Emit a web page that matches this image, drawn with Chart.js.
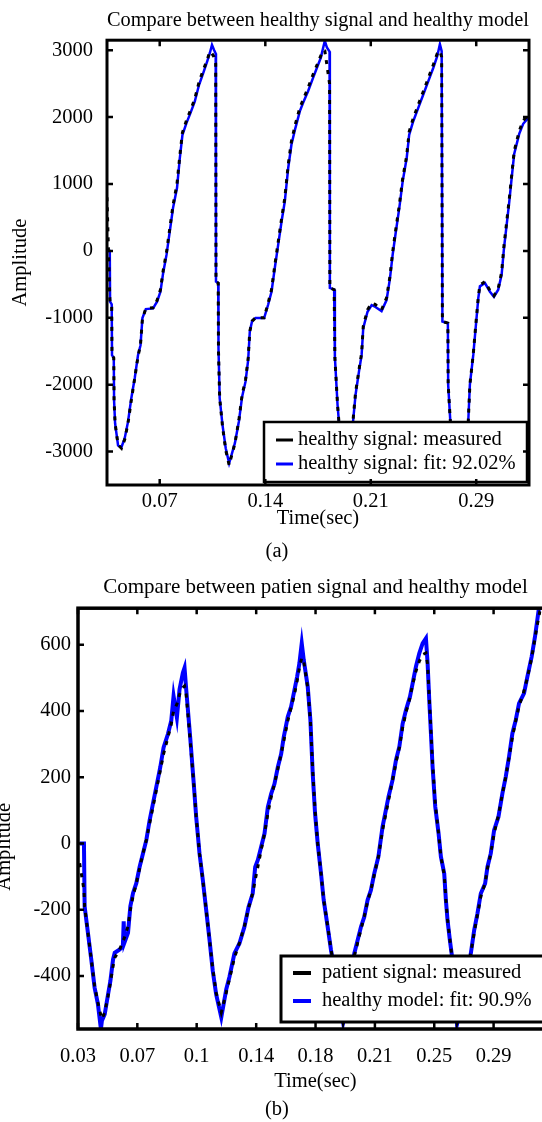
<!DOCTYPE html>
<html><head><meta charset="utf-8">
<script src="https://cdn.jsdelivr.net/npm/chart.js@4.4.1/dist/chart.umd.min.js"></script>
<style>
html,body{margin:0;padding:0;background:#fff;overflow:hidden;}
#page{position:relative;width:542px;height:1122px;overflow:hidden;background:#fff;}
#wa{position:absolute;left:0;top:0;width:542px;height:540px;}
#wb{position:absolute;left:-20px;top:565px;width:600px;height:557px;}
.cap{position:absolute;width:60px;text-align:center;font-family:'Liberation Serif',serif;font-size:20.5px;color:#000;line-height:24px;}
</style></head>
<body><div id="page">
<div id="wa"><canvas id="ca" width="542" height="540"></canvas></div>
<div id="wb"><canvas id="cb" width="600" height="557"></canvas></div>
<div class="cap" style="left:247px;top:538px">(a)</div>
<div class="cap" style="left:247px;top:1096px">(b)</div>
</div>
<script>
// ---------- chart (a) data ----------
const timeA = [
0.0357,0.0376,0.0378,0.0389,0.0391,0.0403,0.0405,0.0412,0.0432,0.0455,
0.0477,0.0499,0.0522,0.0545,0.0567,0.0584,0.0597,0.0620,0.0669,0.0696,
0.0719,0.0737,0.0760,0.0782,0.0804,0.0831,0.0850,0.0868,0.0895,0.0922,
0.0951,0.0980,0.1008,0.1035,0.1053,0.1068,0.1082,0.1093,0.1095,0.1110,
0.1112,0.1120,0.1139,0.1161,0.1184,0.1223,0.1250,0.1272,0.1295,0.1313,
0.1324,0.1340,0.1363,0.1421,0.1448,0.1471,0.1493,0.1516,0.1539,0.1561,
0.1584,0.1606,0.1633,0.1663,0.1685,0.1719,0.1753,0.1783,0.1805,0.1821,
0.1832,0.1846,0.1864,0.1866,0.1895,0.1900,0.1918,0.1940,0.1958,0.1985,
0.2023,0.2040,0.2063,0.2081,0.2092,0.2121,0.2149,0.2172,0.2216,0.2250,
0.2273,0.2291,0.2313,0.2336,0.2359,0.2386,0.2403,0.2430,0.2464,0.2498,
0.2532,0.2566,0.2593,0.2611,0.2623,0.2628,0.2665,0.2667,0.2683,0.2713,
0.2760,0.2803,0.2814,0.2837,0.2855,0.2871,0.2882,0.2916,0.2950,0.2977,
0.3006,0.3029,0.3045,0.3063,0.3081,0.3097,0.3114,0.3148,0.3175,0.3214];
const fitA = [
0,0,-760,-800,-1560,-1600,-2235,-2580,-2910,-2935,
-2800,-2560,-2200,-1900,-1560,-1410,-1005,-870,-860,-760,
-610,-335,-60,290,640,940,1385,1735,1910,2060,
2230,2480,2655,2830,2955,3080,3005,2950,-460,-480,
-1455,-2200,-2600,-2950,-3175,-2875,-2550,-2180,-1955,-1630,
-1205,-1045,-1005,-1005,-805,-610,-260,90,440,740,
1240,1590,1840,2090,2215,2390,2590,2765,2890,3040,
3140,3040,2980,-555,-580,-1585,-2300,-2900,-3080,-2900,
-2550,-2150,-1805,-1555,-1155,-910,-810,-835,-900,-735,
-410,-60,290,640,1040,1385,1735,1935,2135,2335,
2535,2735,2910,3090,2985,-1055,-1080,-2000,-2600,-3100,
-3050,-2550,-2000,-1555,-1105,-705,-530,-480,-610,-685,
-580,-355,40,390,740,1090,1450,1750,1900,2000];
const measuredA = [
800,-700,-760,-800,-1560,-1600,-2235,-2580,-2900,-2950,
-2820,-2580,-2230,-1900,-1580,-1400,-1020,-860,-850,-740,
-580,-300,-20,330,680,1000,1420,1770,1950,2100,
2270,2520,2700,2850,2980,2950,2900,2800,-460,-480,
-1500,-2200,-2620,-2980,-3200,-2880,-2530,-2150,-1930,-1600,
-1200,-1050,-1000,-1000,-780,-580,-220,130,480,790,
1290,1640,1900,2140,2260,2440,2640,2800,2920,3000,
2990,2780,2500,-555,-580,-1600,-2300,-2900,-3080,-2900,
-2530,-2120,-1780,-1530,-1130,-880,-780,-800,-880,-700,
-380,-20,330,680,1080,1420,1780,1980,2180,2380,
2580,2780,2950,2990,2900,-1055,-1080,-2000,-2600,-3100,
-3050,-2550,-2000,-1540,-1080,-690,-510,-460,-590,-670,
-560,-320,80,430,780,1130,1490,1790,1950,2040];
const xTickValsA = [0.0714, 0.1429, 0.2143, 0.2857];
const xTickLabelsA = ['0.07','0.14','0.21','0.29'];
const yTickValsA = [-3000,-2000,-1000,0,1000,2000,3000];
const yTickLabelsA = ['-3000','-2000','-1000','0','1000','2000','3000'];

// ---------- chart (b) data ----------
const timeB = [
0.0367,0.0393,0.0397,0.0417,0.0437,0.0457,0.0477,0.0495,0.0501,0.0518,
0.0538,0.0552,0.0568,0.0578,0.0608,0.0627,0.0632,0.0636,0.0658,0.0672,
0.0688,0.0708,0.0728,0.0748,0.0768,0.0788,0.0808,0.0828,0.0852,0.0872,
0.0898,0.0918,0.0932,0.0952,0.0968,0.0988,0.0998,0.1008,0.1032,0.1052,
0.1068,0.1088,0.1108,0.1128,0.1148,0.1168,0.1188,0.1219,0.1249,0.1268,
0.1298,0.1328,0.1358,0.1383,0.1408,0.1423,0.1439,0.1459,0.1479,0.1499,
0.1519,0.1539,0.1559,0.1579,0.1595,0.1619,0.1639,0.1659,0.1675,0.1689,
0.1703,0.1715,0.1739,0.1755,0.1769,0.1783,0.1799,0.1819,0.1835,0.1859,
0.1879,0.1917,0.1952,0.1988,0.2019,0.2039,0.2059,0.2079,0.2099,0.2119,
0.2139,0.2164,0.2189,0.2225,0.2249,0.2270,0.2290,0.2310,0.2330,0.2354,
0.2370,0.2390,0.2410,0.2430,0.2450,0.2460,0.2470,0.2480,0.2490,0.2506,
0.2526,0.2540,0.2560,0.2570,0.2580,0.2594,0.2606,0.2637,0.2680,0.2720,
0.2740,0.2760,0.2780,0.2806,0.2820,0.2840,0.2860,0.2886,0.2910,0.2930,
0.2950,0.2970,0.2990,0.3010,0.3040,0.3060,0.3086,0.3106,0.3120,0.3135,
0.3214];
const fitB = [
0,0,-190,-270,-350,-435,-485,-560,-535,-515,
-455,-415,-350,-330,-320,-310,-235,-300,-270,-190,
-150,-120,-70,-30,10,70,120,170,230,290,
330,370,445,380,465,515,530,465,320,190,
80,-30,-110,-200,-290,-385,-455,-525,-440,-403,
-332,-302,-252,-192,-151,-71,-50,-10,30,110,
150,180,230,270,322,382,413,463,503,544,
604,554,473,372,211,91,0,-91,-171,-252,
-322,-430,-540,-450,-332,-292,-252,-222,-171,-141,
-91,-40,50,141,191,252,292,362,403,443,
483,534,574,604,619,544,433,332,231,111,
30,-40,-91,-171,-232,-292,-337,-545,-450,-332,
-262,-211,-151,-121,-71,-30,40,80,151,201,
262,332,372,423,453,503,564,624,675,730,
760];
const measuredB = [
-60,-140,-190,-270,-350,-430,-480,-520,-530,-510,
-460,-420,-370,-345,-320,-295,-290,-285,-250,-200,
-160,-120,-75,-30,10,60,110,160,220,270,
320,360,400,420,450,470,475,450,310,190,
80,-30,-110,-200,-290,-380,-450,-510,-450,-410,
-345,-300,-250,-195,-150,-110,-70,-20,30,90,
140,180,225,270,310,370,410,450,490,530,
560,550,470,370,220,100,0,-90,-170,-250,
-320,-430,-540,-450,-340,-300,-260,-220,-175,-140,
-95,-40,40,130,190,245,290,350,395,440,
480,520,550,570,575,540,440,340,240,120,
30,-40,-95,-170,-230,-290,-340,-540,-450,-330,
-270,-215,-160,-120,-75,-30,30,85,150,200,
260,320,370,415,460,500,560,620,660,700,
740];
const xTickValsB = [0.0357,0.0714,0.1071,0.1429,0.1786,0.2143,0.25,0.2857];
const xTickLabelsB = ['0.03','0.07','0.1','0.14','0.18','0.21','0.25','0.29'];
const yTickValsB = [-400,-200,0,200,400,600];
const yTickLabelsB = ['-400','-200','0','200','400','600'];

// ---------- plugins ----------
const framePlugin = {
  id: 'frame',
  afterDraw(chart, args, o) {
    const {ctx, chartArea: a, scales} = chart;
    ctx.save();
    ctx.strokeStyle = '#000';
    ctx.setLineDash([]);
    ctx.lineWidth = o.tickWidth;
    const L = o.tickLen;
    ctx.beginPath();
    scales.x.ticks.forEach(t => {
      const px = scales.x.getPixelForValue(t.value);
      ctx.moveTo(px, a.top); ctx.lineTo(px, a.top + L);
      ctx.moveTo(px, a.bottom); ctx.lineTo(px, a.bottom - L);
    });
    scales.y.ticks.forEach(t => {
      const py = scales.y.getPixelForValue(t.value);
      ctx.moveTo(a.left, py); ctx.lineTo(a.left + L, py);
      ctx.moveTo(a.right, py); ctx.lineTo(a.right - L, py);
    });
    ctx.stroke();
    ctx.lineWidth = o.width;
    ctx.strokeRect(a.left, a.top, a.right - a.left, a.bottom - a.top);
    ctx.restore();
  }
};
const boxLegend = {
  id: 'boxLegend',
  afterDatasetsDraw(chart, args, o) {
    const ctx = chart.ctx;
    ctx.save();
    ctx.setLineDash([]);
    ctx.fillStyle = '#fff';
    ctx.fillRect(o.x1, o.y1, o.x2 - o.x1, o.y2 - o.y1);
    ctx.lineWidth = o.borderWidth;
    ctx.strokeStyle = '#000';
    ctx.strokeRect(o.x1, o.y1, o.x2 - o.x1, o.y2 - o.y1);
    ctx.font = o.font;
    ctx.textBaseline = 'middle';
    ctx.textAlign = 'left';
    o.order.forEach((di, r) => {
      const ds = chart.data.datasets[di];
      const y = o.rowY[r];
      ctx.strokeStyle = ds.borderColor;
      ctx.lineWidth = o.lineWidth;
      ctx.beginPath(); ctx.moveTo(o.lineX1, y); ctx.lineTo(o.lineX2, y); ctx.stroke();
      ctx.fillStyle = '#000';
      ctx.fillText(ds.label, o.textX, y);
    });
    ctx.restore();
  }
};

Chart.defaults.font.family = "'Liberation Serif', 'Times New Roman', serif";
Chart.defaults.font.size = 20.5;
Chart.defaults.color = '#000';

function pts(t, v) { return t.map((x, i) => ({x: x, y: v[i]})); }

function makeChart(id, cfg) {
  return new Chart(document.getElementById(id), {
    type: 'line',
    data: {
      datasets: [
        {label: cfg.measLabel, data: pts(cfg.time, cfg.meas), borderColor: '#000000',
         borderWidth: 3, borderDash: [4, 6], pointRadius: 0, tension: 0, order: 0},
        {label: cfg.fitLabel, data: pts(cfg.time, cfg.fit), borderColor: '#0000ff',
         borderWidth: cfg.fitWidth, pointRadius: 0, tension: 0, order: 1}
      ]
    },
    options: {
      responsive: false, animation: false,
      layout: {padding: cfg.padding},
      plugins: {
        legend: {display: false},
        tooltip: {enabled: false},
        title: {display: true, text: cfg.title, fullSize: false, padding: cfg.titlePad,
                font: {size: 21, weight: 'normal'}, color: '#000'},
        frame: cfg.frame,
        boxLegend: cfg.legend
      },
      scales: {
        x: {
          type: 'linear', min: 1/28, max: 9/28,
          grid: {display: false, drawTicks: false}, border: {display: false},
          afterBuildTicks: s => { s.ticks = cfg.xTicks.map(v => ({value: v})); },
          afterFit: s => { s.height = cfg.xHeight; },
          ticks: {autoSkip: false, maxRotation: 0, padding: cfg.xTickPad, color: '#000',
                  font: {size: 20.5}, callback: (v, i) => cfg.xLabels[i]},
          title: {display: true, text: 'Time(sec)', color: '#000', font: {size: 20.5},
                  padding: {top: 0, bottom: cfg.xTitlePad}}
        },
        y: {
          type: 'linear', min: cfg.yMin, max: cfg.yMax,
          grid: {display: false, drawTicks: false}, border: {display: false},
          afterBuildTicks: s => { s.ticks = cfg.yTicks.map(v => ({value: v})); },
          afterFit: s => { s.width = cfg.yWidth; },
          ticks: {autoSkip: false, padding: cfg.yTickPad, color: '#000', font: {size: 20.5},
                  callback: (v, i) => cfg.yLabels[i]},
          title: {display: true, text: cfg.yTitle, color: '#000', font: {size: 20.5},
                  padding: {top: cfg.yTitlePad, bottom: 0}}
        }
      }
    },
    plugins: [boxLegend, framePlugin]
  });
}

makeChart('ca', {
  title: 'Compare between healthy signal and healthy model',
  measLabel: 'healthy signal: measured', fitLabel: 'healthy signal: fit: 92.02%',
  time: timeA, meas: measuredA, fit: fitA, fitWidth: 2.5,
  padding: {left: 0, right: 13, top: 0, bottom: 0},
  titlePad: {top: 8, bottom: 7},
  xTicks: xTickValsA, xLabels: xTickLabelsA, xHeight: 55, xTickPad: 4, xTitlePad: 9,
  yTicks: yTickValsA, yLabels: yTickLabelsA, yMin: -3500, yMax: 3150, yWidth: 107, yTickPad: 14, yTitlePad: 8,
  yTitle: 'Amplitude',
  frame: {width: 3, tickWidth: 2.5, tickLen: 6},
  legend: {x1: 264, y1: 422, x2: 527, y2: 482, borderWidth: 2.5, font: "20.5px 'Liberation Serif'",
           order: [0, 1], rowY: [440, 464], lineX1: 276, lineX2: 293, lineWidth: 3, textX: 298}
});

makeChart('cb', {
  title: 'Compare between patien signal and healthy model',
  measLabel: 'patient signal: measured', fitLabel: 'healthy model: fit: 90.9%',
  time: timeB, meas: measuredB, fit: fitB, fitWidth: 4,
  padding: {left: 0, right: 27, top: 0, bottom: 0},
  titlePad: {top: 10, bottom: 8},
  xTicks: xTickValsB, xLabels: xTickLabelsB, xHeight: 93, xTickPad: 15, xTitlePad: 28,
  yTicks: yTickValsB, yLabels: yTickLabelsB, yMin: -560, yMax: 710, yWidth: 98, yTickPad: 7, yTitlePad: 12,
  yTitle: 'Amplitude           ',
  frame: {width: 3.5, tickWidth: 2.5, tickLen: 6},
  legend: {x1: 301, y1: 391, x2: 598, y2: 457, borderWidth: 3, font: "20.5px 'Liberation Serif'",
           order: [0, 1], rowY: [408, 436], lineX1: 313, lineX2: 331, lineWidth: 4, textX: 342}
});
</script>
</body></html>
